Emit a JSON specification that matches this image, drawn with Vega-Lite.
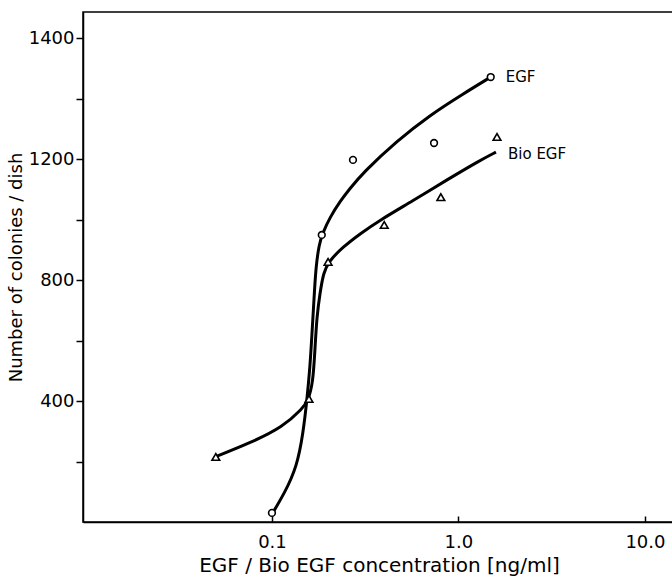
{
  "$schema": "https://vega.github.io/schema/vega-lite/v6.json",
  "autosize": {"type": "none"},
  "width": 592,
  "height": 510,
  "padding": {"left": 83, "top": 12, "right": 0, "bottom": 60},
  "background": "white",
  "config": {
    "view": {"stroke": "black", "strokeWidth": 1.5},
    "font": "DejaVu Sans"
  },
  "datasets": {
    "curves": [
      {"series": "EGF", "conc": 0.1, "colonies": 26},
      {"series": "EGF", "conc": 0.117, "colonies": 96},
      {"series": "EGF", "conc": 0.136, "colonies": 182},
      {"series": "EGF", "conc": 0.147, "colonies": 294},
      {"series": "EGF", "conc": 0.154, "colonies": 403},
      {"series": "EGF", "conc": 0.16, "colonies": 512},
      {"series": "EGF", "conc": 0.164, "colonies": 625},
      {"series": "EGF", "conc": 0.168, "colonies": 734},
      {"series": "EGF", "conc": 0.172, "colonies": 843},
      {"series": "EGF", "conc": 0.179, "colonies": 918},
      {"series": "EGF", "conc": 0.187, "colonies": 955},
      {"series": "EGF", "conc": 0.205, "colonies": 1008},
      {"series": "EGF", "conc": 0.232, "colonies": 1060},
      {"series": "EGF", "conc": 0.26, "colonies": 1100},
      {"series": "EGF", "conc": 0.308, "colonies": 1155},
      {"series": "EGF", "conc": 0.468, "colonies": 1260},
      {"series": "EGF", "conc": 0.703, "colonies": 1345},
      {"series": "EGF", "conc": 1.057, "colonies": 1415},
      {"series": "EGF", "conc": 1.49, "colonies": 1471},
      {"series": "Bio EGF", "conc": 0.0495, "colonies": 215},
      {"series": "Bio EGF", "conc": 0.0762, "colonies": 261},
      {"series": "Bio EGF", "conc": 0.1146, "colonies": 314},
      {"series": "Bio EGF", "conc": 0.1466, "colonies": 377},
      {"series": "Bio EGF", "conc": 0.156, "colonies": 400},
      {"series": "Bio EGF", "conc": 0.166, "colonies": 460},
      {"series": "Bio EGF", "conc": 0.17, "colonies": 569},
      {"series": "Bio EGF", "conc": 0.174, "colonies": 678},
      {"series": "Bio EGF", "conc": 0.181, "colonies": 757},
      {"series": "Bio EGF", "conc": 0.189, "colonies": 825},
      {"series": "Bio EGF", "conc": 0.202, "colonies": 862},
      {"series": "Bio EGF", "conc": 0.24, "colonies": 909},
      {"series": "Bio EGF", "conc": 0.297, "colonies": 953},
      {"series": "Bio EGF", "conc": 0.379, "colonies": 998},
      {"series": "Bio EGF", "conc": 0.57, "colonies": 1062},
      {"series": "Bio EGF", "conc": 0.867, "colonies": 1131},
      {"series": "Bio EGF", "conc": 1.3, "colonies": 1195},
      {"series": "Bio EGF", "conc": 1.59, "colonies": 1223}
    ],
    "points": [
      {"series": "EGF", "conc": 0.1, "colonies": 30},
      {"series": "EGF", "conc": 0.185, "colonies": 949},
      {"series": "EGF", "conc": 0.272, "colonies": 1197},
      {"series": "EGF", "conc": 0.74, "colonies": 1253},
      {"series": "EGF", "conc": 1.49, "colonies": 1471},
      {"series": "Bio EGF", "conc": 0.05, "colonies": 215},
      {"series": "Bio EGF", "conc": 0.158, "colonies": 407},
      {"series": "Bio EGF", "conc": 0.2, "colonies": 860},
      {"series": "Bio EGF", "conc": 0.4, "colonies": 982},
      {"series": "Bio EGF", "conc": 0.805, "colonies": 1074},
      {"series": "Bio EGF", "conc": 1.61, "colonies": 1273}
    ],
    "labels": [
      {"label": "EGF", "conc": 1.49, "colonies": 1471},
      {"label": "Bio EGF", "conc": 1.59, "colonies": 1215}
    ]
  },
  "encoding": {
    "x": {
      "field": "conc", "type": "quantitative",
      "scale": {"type": "log", "domain": [0.0097, 14.5], "nice": false},
      "axis": {
        "title": "EGF / Bio EGF concentration [ng/ml]",
        "values": [0.1, 1, 10],
        "format": ".1f",
        "grid": false,
        "domainColor": "black", "domainWidth": 1.5,
        "tickColor": "black", "tickSize": -6, "tickWidth": 1.5,
        "labelFontSize": 18, "labelColor": "black", "labelPadding": 17,
        "titleFontSize": 20, "titleFontWeight": "normal", "titleColor": "black",
        "titlePadding": 4
      }
    },
    "y": {
      "field": "colonies", "type": "quantitative",
      "scale": {"domain": [0, 1686], "nice": false, "zero": false},
      "axis": {
        "title": "Number of colonies / dish",
        "values": [200, 400, 600, 800, 1000, 1200, 1400, 1600],
        "labelExpr": "datum.value == 1600 ? '1400' : (datum.value % 400 == 0 ? datum.label : '')",
        "format": "d",
        "grid": false,
        "domainColor": "black", "domainWidth": 1.5,
        "tickColor": "black", "tickSize": 7, "tickWidth": 1.5,
        "labelFontSize": 18, "labelColor": "black", "labelPadding": 2,
        "titleFontSize": 18, "titleFontWeight": "normal", "titleColor": "black",
        "titlePadding": 3
      }
    }
  },
  "layer": [
    {
      "data": {"name": "curves"},
      "mark": {"type": "line", "interpolate": "basis", "color": "black", "strokeWidth": 3},
      "encoding": {"detail": {"field": "series"}}
    },
    {
      "data": {"name": "points"},
      "mark": {"type": "point", "filled": true, "fill": "white", "stroke": "black", "strokeWidth": 1.6, "opacity": 1},
      "encoding": {
        "shape": {
          "field": "series", "type": "nominal",
          "scale": {"domain": ["EGF", "Bio EGF"], "range": ["circle", "triangle-up"]},
          "legend": null
        },
        "size": {
          "field": "series", "type": "nominal",
          "scale": {"domain": ["EGF", "Bio EGF"], "range": [45, 60]},
          "legend": null
        }
      }
    },
    {
      "data": {"name": "labels"},
      "transform": [{"filter": "datum.label == 'EGF'"}],
      "mark": {"type": "text", "align": "left", "baseline": "middle", "fontSize": 15, "dx": 15, "color": "black"},
      "encoding": {"text": {"field": "label"}}
    },
    {
      "data": {"name": "labels"},
      "transform": [{"filter": "datum.label == 'Bio EGF'"}],
      "mark": {"type": "text", "align": "left", "baseline": "middle", "fontSize": 15, "dx": 12, "color": "black"},
      "encoding": {"text": {"field": "label"}}
    }
  ]
}
